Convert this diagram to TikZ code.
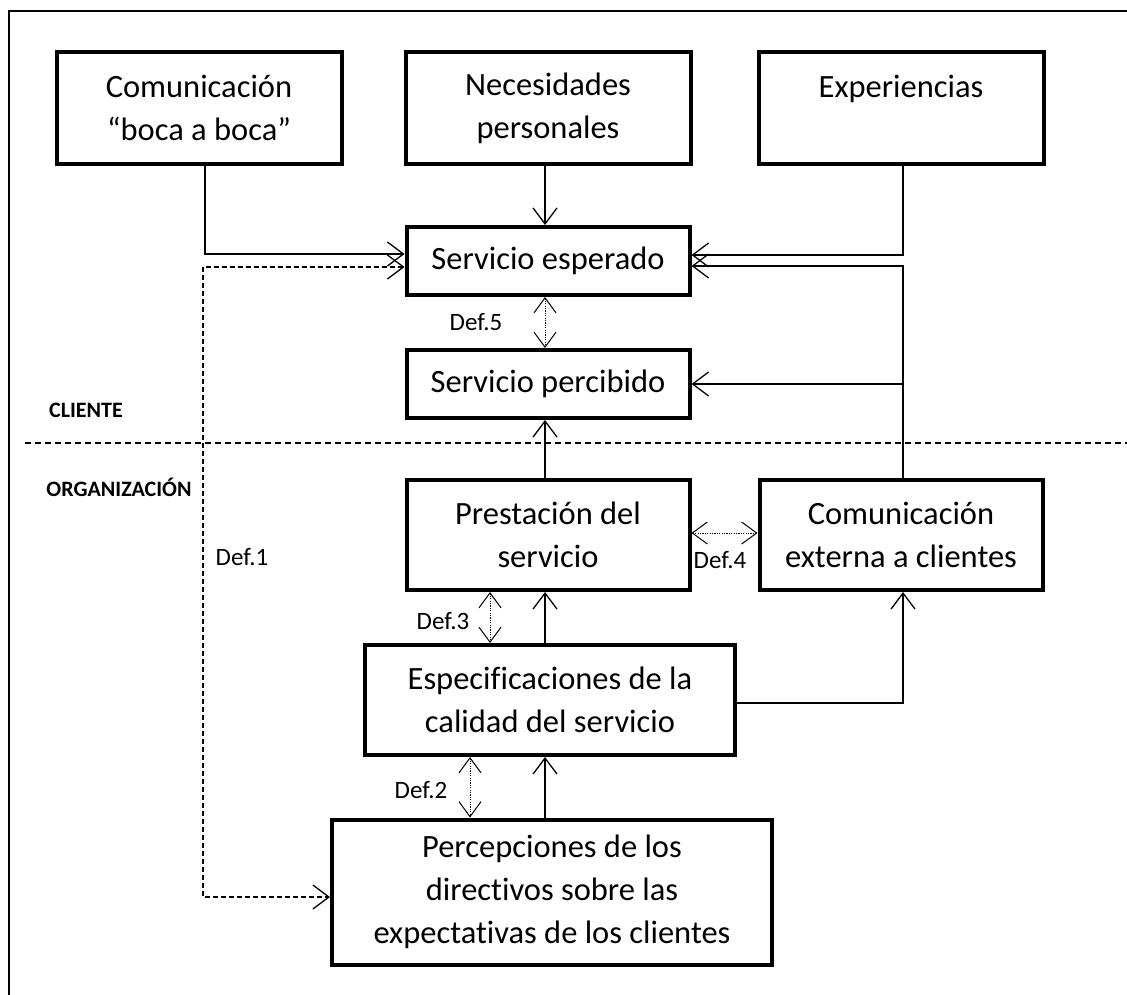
\documentclass[tikz,border=0pt]{standalone}
\usepackage{fontspec}
\setmainfont{Carlito}[Ligatures=NoCommon]
\usetikzlibrary{arrows.meta}
\begin{document}
\begin{tikzpicture}[x=1pt,y=-1pt,
  box/.style={draw, line width=4pt, align=center, inner sep=0pt,
    font=\fontsize{32.5}{43}\selectfont},
  conn/.style={line width=1.3pt},
  arr/.style={conn, -{Straight Barb[length=16pt,width=24pt]}},
  darr/.style={conn, dashed, dash pattern=on 5pt off 3pt,
    {Straight Barb[length=16pt,width=24pt]}-{Straight Barb[length=16pt,width=24pt]}},
  dotarr/.style={line width=1pt, dash pattern=on 1.2pt off 1.2pt,
    {Straight Barb[length=15pt,width=22pt]}-{Straight Barb[length=15pt,width=22pt]}},
  deflabel/.style={font=\fontsize{25}{28}\selectfont, inner sep=0pt},
  zonelabel/.style={font=\fontsize{22}{26}\selectfont\bfseries, inner sep=0pt},
  frame/.style={line width=2pt},
  divider/.style={line width=1.3pt, dash pattern=on 6pt off 4pt}
]
\useasboundingbox (0,0) rectangle (1127,995);
\fill[white] (0,0) rectangle (1127,995);

% outer frame (top and left visible)
\coordinate (ftl) at (9,11);
\coordinate (ftr) at (1127,11);
\coordinate (fbl) at (9,995);
\draw[frame] (ftr) -- (ftl) -- (fbl);

% boxes
\node[box, minimum width=285, minimum height=112] (b1) at (199,108) {Comunicación\\“boca a boca”};
\node[box, minimum width=285, minimum height=112] (b2) at (548,108) {Necesidades\\personales};
\node[box, minimum width=285, minimum height=112] (b3) at (901,108) {Experiencias\\\mbox{}};
\node[box, minimum width=283, minimum height=68] (esp) at (548,261) {Servicio esperado};
\node[box, minimum width=283, minimum height=68] (perc) at (548,384) {Servicio percibido};
\node[box, minimum width=283, minimum height=110] (pres) at (548,535) {Prestación del\\servicio};
\node[box, minimum width=283, minimum height=110] (cext) at (901,535) {Comunicación\\externa a clientes};
\node[box, minimum width=370, minimum height=110] (espec) at (550,700) {Especificaciones de la\\calidad del servicio};
\node[box, minimum width=440, minimum height=145] (percep) at (552,892) {Percepciones de los\\directivos sobre las\\expectativas de los clientes};

% divider line
\coordinate (dl) at (25,443);
\coordinate (dr) at (1127,443);
\draw[divider] (dl) -- (dr);

% zone labels
\node[zonelabel] (cli) at (86,410) {CLIENTE};
\node[zonelabel] (org) at (119,487) {ORGANIZACIÓN};

% solid connectors
\draw[arr] ([xshift=6pt]b1.south) |- ([yshift=7pt]esp.west);
\draw[arr] ([xshift=-3pt]b2.south) -- ([xshift=-3pt]esp.north);
\draw[arr] ([xshift=2pt]b3.south) |- ([yshift=6pt]esp.east);
\draw[arr] ([xshift=2pt]cext.north) |- ([yshift=-5pt]esp.east);
\draw[arr] ([xshift=2pt]cext.north |- perc.east) -- (perc.east);
\draw[arr] ([xshift=-3pt]pres.north) -- ([xshift=-3pt]perc.south);
\draw[arr] ([xshift=-3pt]pres.south |- espec.north) -- ([xshift=-3pt]pres.south);
\draw[arr] ([yshift=-3pt]espec.east) -| ([xshift=2pt]cext.south);
\draw[arr] ([xshift=-3pt]pres.south |- percep.north) -- ([xshift=-3pt]pres.south |- espec.south);

% Def.1 dashed connector
\coordinate (d1a) at (203,267);
\coordinate (d1b) at (203,897);
\draw[darr] ([yshift=-6pt]esp.west) -- (d1a) -- (d1b) -- (percep.west |- d1b);

% dotted double arrows
\draw[dotarr] ([xshift=-3pt]esp.south) -- ([xshift=-3pt]perc.north);
\draw[dotarr] ([yshift=2pt]pres.east) -- ([yshift=2pt]cext.west);
\draw[dotarr] (pres.south -| 490,0) -- (espec.north -| 490,0);
\draw[dotarr] (espec.south -| 470,0) -- (percep.north -| 470,0);

% Def labels
\node[deflabel] (def5) at (476,322) {Def.5};
\node[deflabel] (def4) at (720,560) {Def.4};
\node[deflabel] (def3) at (443,621) {Def.3};
\node[deflabel] (def2) at (421,790) {Def.2};
\node[deflabel] (def1) at (242,557) {Def.1};
\end{tikzpicture}
\end{document}
